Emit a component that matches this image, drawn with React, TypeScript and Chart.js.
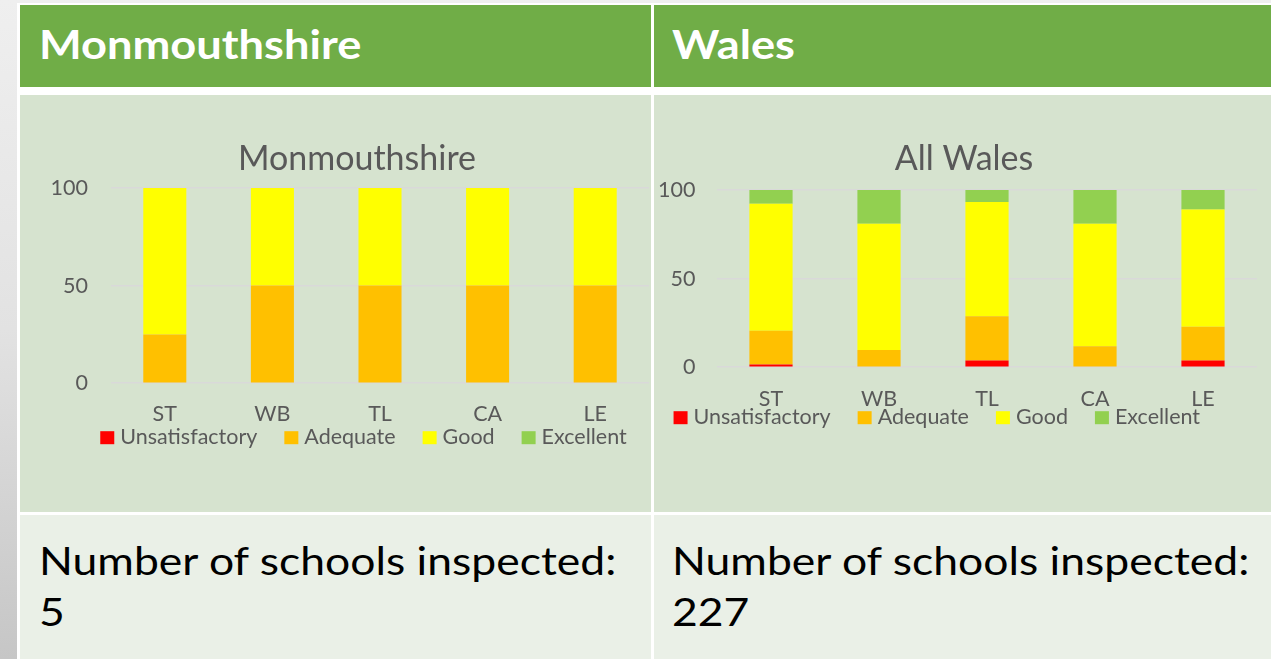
import React, { useEffect, useRef } from "react";
import { Chart, registerables } from "chart.js";

Chart.register(...registerables);

// ---------------- data ----------------
const categories = ["ST", "WB", "TL", "CA", "LE"];
const seriesNames = ["Unsatisfactory", "Adequate", "Good", "Excellent"];
const seriesColors = ["#FF0000", "#FFC000", "#FFFF00", "#92D050"];

const monUnsatisfactory = [0, 0, 0, 0, 0];
const monAdequate = [25, 50, 50, 50, 50];
const monGood = [75, 50, 50, 50, 50];
const monExcellent = [0, 0, 0, 0, 0];

const walesUnsatisfactory = [1.5, 0.4, 3.8, 0.4, 3.8];
const walesAdequate = [19, 9.3, 25, 11.4, 19];
const walesGood = [71.7, 71.3, 64.4, 69.2, 66.2];
const walesExcellent = [7.8, 19, 6.8, 19, 11];

const yTicks = [0, 50, 100];

const monTitle = "Monmouthshire";
const walesTitle = "All Wales";
const monSchools = 5;
const walesSchools = 227;

// ---------------- style ----------------
const TEXT_GREY = "#595959";
const GRID = "#D9D9D9";
const FONT = "Lato, 'Open Sans', sans-serif";
const TICK_SIZE = 21.5;
const TITLE_SIZE = 34;

const customLegend = {
  id: "customLegend",
  afterDraw(chart: any, _args: any, opts: any) {
    const ctx = chart.ctx;
    const ds = chart.data.datasets;
    ctx.save();
    ctx.font = `${opts.fontSize}px ${FONT}`;
    const widths = ds.map((d: any) => ctx.measureText(d.label).width);
    let total = 0;
    widths.forEach((w: number) => (total += opts.boxW + opts.boxGap + w));
    total += opts.itemGap * (ds.length - 1);
    let x = opts.centerX - total / 2;
    const base = chart.chartArea.bottom + opts.baselineOffset;
    ds.forEach((d: any, i: number) => {
      ctx.fillStyle = d.backgroundColor;
      ctx.fillRect(x, base - opts.boxH, opts.boxW, opts.boxH);
      x += opts.boxW + opts.boxGap;
      ctx.fillStyle = TEXT_GREY;
      ctx.textAlign = "left";
      ctx.textBaseline = "alphabetic";
      ctx.fillText(d.label, x, base);
      x += widths[i] + opts.itemGap;
    });
    ctx.restore();
  },
};

function makeConfig(
  title: string,
  values: number[][],
  p: {
    padL: number;
    padR: number;
    padB: number;
    titleTop: number;
    titleBottom: number;
    yWidth: number;
    yPad: number;
    xPad: number;
    legendCenter: number;
    legendBase: number;
  }
): any {
  return {
    type: "bar",
    data: {
      labels: categories,
      datasets: seriesNames.map((name, i) => ({
        label: name,
        data: values[i],
        backgroundColor: seriesColors[i],
        borderWidth: 0,
        barPercentage: 0.4,
        categoryPercentage: 1,
      })),
    },
    plugins: [customLegend],
    options: {
      responsive: false,
      animation: false,
      events: [],
      layout: { padding: { left: p.padL, right: p.padR, top: 0, bottom: p.padB } },
      plugins: {
        legend: { display: false },
        tooltip: { enabled: false },
        title: {
          display: true,
          text: title,
          color: TEXT_GREY,
          font: { family: FONT, size: TITLE_SIZE, weight: "normal", lineHeight: 1.2 },
          padding: { top: p.titleTop, bottom: p.titleBottom },
        },
        customLegend: {
          fontSize: TICK_SIZE,
          boxW: 14,
          boxH: 13,
          boxGap: 6,
          itemGap: 27,
          centerX: p.legendCenter,
          baselineOffset: p.legendBase,
        },
      },
      scales: {
        x: {
          stacked: true,
          grid: { display: false, drawTicks: false, tickLength: 0 },
          border: { display: false },
          ticks: {
            color: TEXT_GREY,
            font: { family: FONT, size: TICK_SIZE, lineHeight: 1.2 },
            padding: p.xPad,
            maxRotation: 0,
          },
        },
        y: {
          stacked: true,
          min: 0,
          max: 100,
          afterBuildTicks: (s: any) => {
            s.ticks = yTicks.map((v) => ({ value: v }));
          },
          afterFit: (s: any) => {
            s.width = p.yWidth;
            // let tick labels extend past the narrowed axis box
            s._computeLabelArea = () => undefined;
          },
          grid: { color: GRID, lineWidth: 1.5, drawTicks: false, tickLength: 0 },
          border: { display: false },
          ticks: {
            color: TEXT_GREY,
            font: { family: FONT, size: TICK_SIZE, lineHeight: 1.2 },
            padding: p.yPad,
          },
        },
      },
    },
  };
}

function ChartCanvas(props: { config: any; left: number; top: number; width: number; height: number }) {
  const ref = useRef<HTMLCanvasElement>(null);
  useEffect(() => {
    if (!ref.current) return;
    const chart = new Chart(ref.current, props.config);
    return () => chart.destroy();
  }, []);
  return (
    <canvas
      ref={ref}
      width={props.width}
      height={props.height}
      style={{ position: "absolute", left: props.left, top: props.top, width: props.width, height: props.height }}
    />
  );
}

const HEADER_GREEN = "#70AD47";
const ROW1 = "#D6E3CF";
const ROW2 = "#EAF0E7";

export default function App() {
  const monConfig = makeConfig(monTitle, [monUnsatisfactory, monAdequate, monGood, monExcellent], {
    padL: 45,
    padR: 2,
    padB: 67,
    titleTop: 43.5,
    titleBottom: 8.7,
    yWidth: 46,
    yPad: 23,
    xPad: 18,
    legendCenter: 343.5,
    legendBase: 61,
  });
  const walesConfig = makeConfig(walesTitle, [walesUnsatisfactory, walesAdequate, walesGood, walesExcellent], {
    padL: 17,
    padR: 14,
    padB: 81,
    titleTop: 43.5,
    titleBottom: 10.7,
    yWidth: 46,
    yPad: 21.5,
    xPad: 19,
    legendCenter: 282.8,
    legendBase: 57,
  });

  const headerText: React.CSSProperties = {
    position: "absolute",
    top: 19.5,
    fontFamily: FONT,
    fontWeight: 700,
    fontSize: 40,
    lineHeight: "48px",
    color: "#FFFFFF",
    whiteSpace: "nowrap",
    transform: "scaleX(1.13)",
    transformOrigin: "0 0",
  };
  const bodyText: React.CSSProperties = {
    position: "absolute",
    top: 534.8,
    fontFamily: FONT,
    fontWeight: 400,
    fontSize: 38,
    lineHeight: "51px",
    color: "#000000",
    whiteSpace: "nowrap",
    transform: "scaleX(1.17)",
    transformOrigin: "0 0",
  };

  return (
    <div
      style={{
        position: "absolute",
        left: 0,
        top: 0,
        width: 1271,
        height: 659,
        overflow: "hidden",
        background: "linear-gradient(180deg, #efefef 0%, #e2e2e2 50%, #c6c6c6 100%)",
      }}
    >
      <div style={{ position: "absolute", left: 17, top: 3, right: 0, bottom: 0, background: "#FFFFFF" }} />
      {/* header row */}
      <div style={{ position: "absolute", left: 20, top: 5, width: 631, height: 82, background: HEADER_GREEN }} />
      <div style={{ position: "absolute", left: 654, top: 5, width: 617, height: 82, background: HEADER_GREEN }} />
      {/* chart row */}
      <div style={{ position: "absolute", left: 20, top: 95, width: 631, height: 417, background: ROW1 }} />
      <div style={{ position: "absolute", left: 654, top: 95, width: 617, height: 417, background: ROW1 }} />
      {/* text row */}
      <div style={{ position: "absolute", left: 20, top: 515, width: 631, height: 144, background: ROW2 }} />
      <div style={{ position: "absolute", left: 654, top: 515, width: 617, height: 144, background: ROW2 }} />

      <div style={{ ...headerText, left: 39 }}>Monmouthshire</div>
      <div style={{ ...headerText, left: 672 }}>Wales</div>

      <ChartCanvas config={monConfig} left={20} top={95} width={631} height={417} />
      <ChartCanvas config={walesConfig} left={654} top={95} width={617} height={417} />

      <div style={{ ...bodyText, left: 39 }}>
        Number of schools inspected:
        <br />
        {monSchools}
      </div>
      <div style={{ ...bodyText, left: 672 }}>
        Number of schools inspected:
        <br />
        {walesSchools}
      </div>
    </div>
  );
}
